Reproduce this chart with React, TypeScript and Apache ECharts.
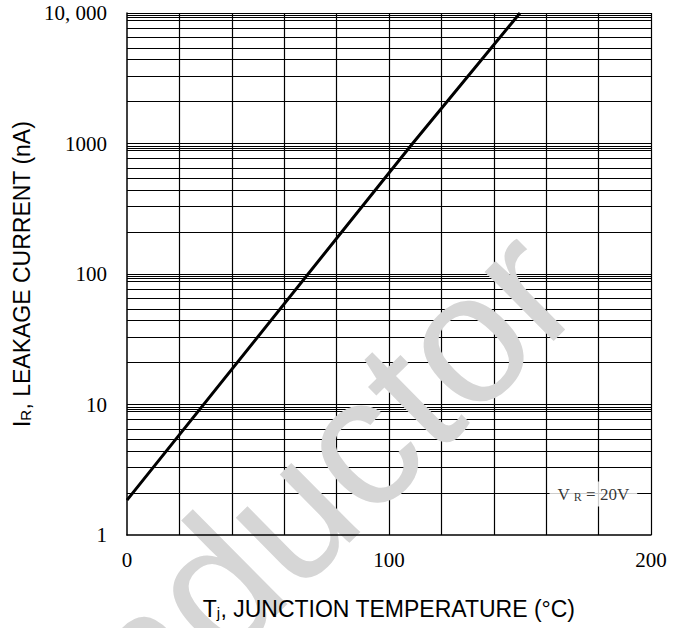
import React, { useEffect, useRef } from 'react';
import * as echarts from 'echarts';

// Curve (Tj in °C, IR in nA)
const temperatureC = [0, 109, 150];
const leakageNA = [1.85, 1000, 10000];

// Axis ticks
const xMin = 0;
const xMax = 200;
const xStep = 20;
const xLabeledTicks = [0, 100, 200];
const yDecades = [1, 10, 100, 1000, 10000];
const yTickLabels = ['1', '10', '100', '1000', '10, 000'];
// Horizontal grid lines inside each decade (as multipliers of the decade)
const minorMultipliers = [2.1, 3.3, 4.4, 5.4, 6.5, 7.7, 8.8, 9.2, 9.6];

// Annotation
const vrLabelText = '{a|V}{s|R}{a| = 20V}';
const vrLabelAt = [178, 2.06];
const watermarkText = 'nductor';

const SERIF = "'Liberation Serif', 'Times New Roman', serif";
const SANS = "'Liberation Sans', Arial, sans-serif";

export default function App() {
  const ref = useRef<HTMLDivElement>(null);

  useEffect(() => {
    const chart = echarts.init(ref.current!, null, { renderer: 'svg' });

    const gridLines: any[] = [];
    for (let x = xMin + xStep; x <= xMax; x += xStep) gridLines.push({ xAxis: x });
    yDecades.slice(1).forEach((d) => gridLines.push({ yAxis: d }));
    yDecades.slice(0, -1).forEach((d) =>
      minorMultipliers.forEach((m) => gridLines.push({ yAxis: d * m }))
    );

    const gridLineStyle = { color: '#000', width: 1.2, type: 'solid' as const };

    chart.setOption({
      animation: false,
      backgroundColor: '#fff',
      grid: { left: 127, right: 34, top: 13, bottom: 93, containLabel: false },
      xAxis: {
        type: 'value',
        min: xMin,
        max: xMax,
        interval: xStep,
        z: 100,
        axisLine: { show: true, lineStyle: { color: '#000', width: 1.5 } },
        axisTick: { show: false },
        splitLine: { show: false },
        axisLabel: {
          margin: 14,
          color: '#000',
          fontFamily: SERIF,
          fontSize: 21,
          formatter: (v: number) => (xLabeledTicks.includes(v) ? String(v) : ''),
        },
        name: 'T{sub|j}, JUNCTION TEMPERATURE (°C)',
        nameLocation: 'middle',
        nameGap: 62,
        nameTextStyle: {
          color: '#000',
          fontFamily: SANS,
          fontSize: 23,
          rich: {
            sub: { fontFamily: SANS, fontSize: 15, lineHeight: 8, verticalAlign: 'bottom', color: '#000' },
          },
        },
      },
      yAxis: {
        type: 'log',
        logBase: 10,
        min: 1,
        max: 10000,
        z: 100,
        axisLine: { show: true, lineStyle: { color: '#000', width: 1.5 } },
        axisTick: { show: false },
        splitLine: { show: false },
        axisLabel: {
          margin: 20,
          color: '#000',
          fontFamily: SERIF,
          fontSize: 21,
          formatter: (v: number) => yTickLabels[Math.round(Math.log10(v))] ?? '',
        },
        name: 'I{sub|R}, LEAKAGE CURRENT (nA)',
        nameLocation: 'middle',
        nameGap: 90,
        nameTextStyle: {
          color: '#000',
          fontFamily: SANS,
          fontSize: 23,
          rich: {
            sub: { fontFamily: SANS, fontSize: 15, lineHeight: 8, verticalAlign: 'bottom', color: '#000' },
          },
        },
      },
      series: [
        {
          type: 'scatter',
          data: [],
          z: 1,
          silent: true,
          markLine: {
            z: 1,
            silent: true,
            symbol: ['none', 'none'],
            label: { show: false },
            lineStyle: gridLineStyle,
            emphasis: { disabled: true },
            data: gridLines,
          },
        },
        {
          type: 'line',
          z: 3,
          data: temperatureC.map((t, i) => [t, leakageNA[i]]),
          symbol: 'none',
          lineStyle: { color: '#000', width: 3 },
          silent: true,
        },
        {
          type: 'scatter',
          z: 4,
          silent: true,
          data: [vrLabelAt],
          symbolSize: 0,
          label: {
            show: true,
            position: 'inside',
            formatter: vrLabelText,
            backgroundColor: '#fff',
            padding: [4, 8, 4, 8],
            rich: {
              a: { fontFamily: SERIF, fontSize: 17, color: '#000' },
              s: { fontFamily: SERIF, fontSize: 12, color: '#000', lineHeight: 6, verticalAlign: 'bottom', padding: [0, 0, 0, 4] },
            },
          },
        },
      ],
      graphic: [
        {
          type: 'text',
          x: 324,
          y: 478,
          rotation: 0.78,
          z: 50,
          silent: true,
          style: {
            text: watermarkText,
            fontSize: 185,
            fontWeight: 'normal',
            fontFamily: SANS,
            fill: '#d6d6d6',
            align: 'center',
            verticalAlign: 'middle',
            textAlign: 'center',
            textVerticalAlign: 'middle',
          },
        },
      ],
    });

    return () => chart.dispose();
  }, []);

  return (
    <div
      ref={ref}
      style={{ position: 'absolute', left: 0, top: 0, width: 685, height: 628 }}
    />
  );
}
